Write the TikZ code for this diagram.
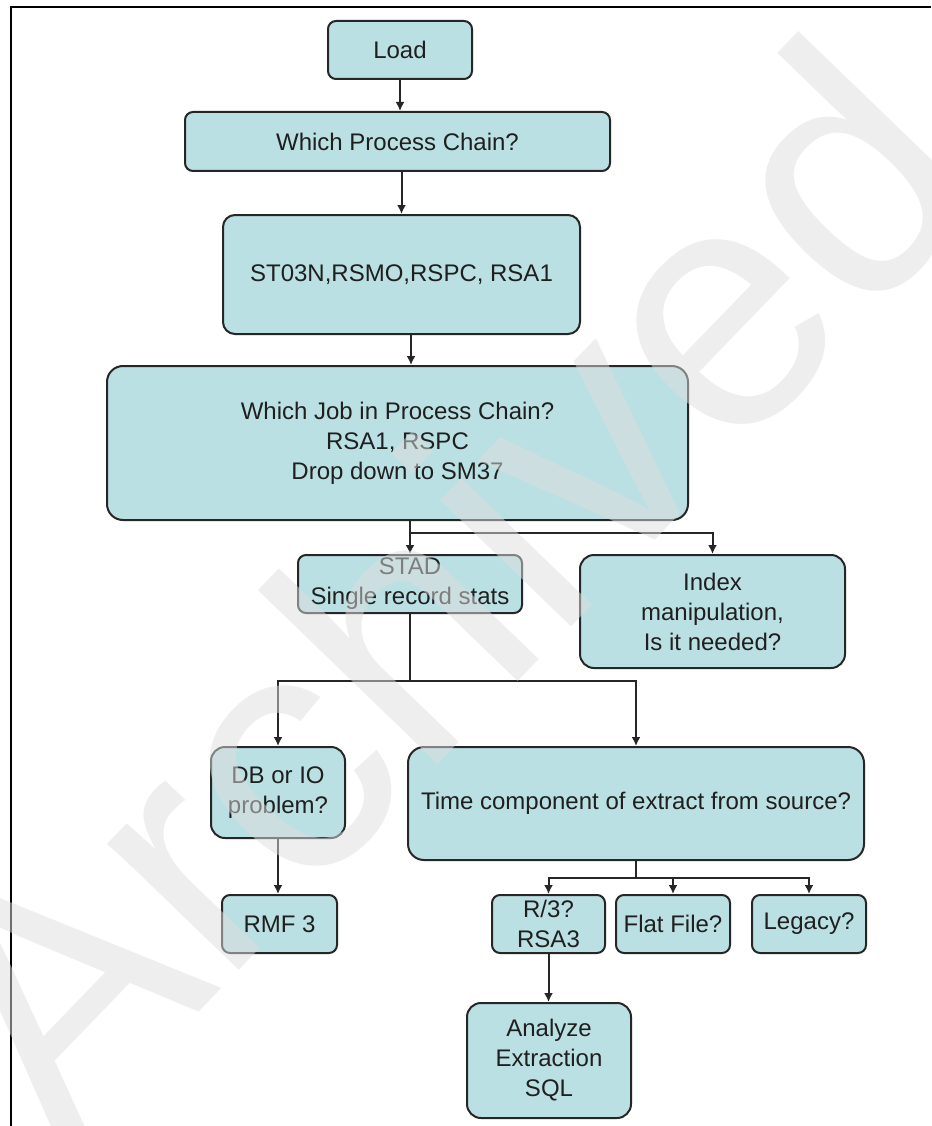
\documentclass[tikz,border=0pt]{standalone}
\usepackage{fontspec}
\setmainfont{Liberation Sans}
\usetikzlibrary{arrows.meta}
\definecolor{boxfill}{RGB}{187,224,227}
\definecolor{boxline}{RGB}{38,38,38}
\definecolor{wmark}{RGB}{222,222,222}
\begin{document}
\begin{tikzpicture}[x=1pt,y=-1pt,
  box/.style={draw=boxline, line width=2pt, fill=boxfill, rounded corners=#1,
    font=\fontsize{24}{30}\selectfont, text=black!88, align=center, inner sep=0pt},
  box/.default=8pt,
  link/.style={draw=boxline, line width=2pt},
  arr/.style={link, -{Latex[length=9pt,width=9pt]}},
  frame/.style={draw=black, line width=2pt}
]
\useasboundingbox (0,0) rectangle (931,1126);
\fill[white] (0,0) rectangle (931,1126);

% page frame (top and left rules)
\draw[frame] (931,7) -- (11,7) -- (11,1126);

% boxes
\node[box, minimum width=144pt, minimum height=58pt] (load) at (400,50) {Load};
\node[box, minimum width=425pt, minimum height=59pt] (chain) at (397.5,141.5) {Which Process Chain?};
\node[box=12pt, minimum width=357pt, minimum height=119pt] (tcodes) at (401.5,274.5) {ST03N,RSMO,RSPC, RSA1};
\node[box=16pt, minimum width=581pt, minimum height=154pt] (job) at (397.5,443)
  {Which Job in Process Chain?\\RSA1, RSPC\\Drop down to SM37};
\node[box, minimum width=224pt, minimum height=58pt] (stad) at (410,584) {STAD\\Single record stats};
\node[box=14pt, minimum width=265pt, minimum height=113pt] (index) at (712.5,611.5) {Index\\manipulation,\\Is it needed?};
\node[box=14pt, minimum width=134pt, minimum height=91pt] (db) at (278,792.5) {DB or IO\\problem?};
\node[box=16pt, minimum width=456pt, minimum height=113pt] (time) at (636,803.5) {Time component of extract from source?};
\node[box, minimum width=115pt, minimum height=58pt] (rmf) at (279.5,924) {RMF 3};
\node[box, minimum width=113pt, minimum height=58pt] (r3) at (548.5,924) {R/3?\\RSA3};
\node[box, minimum width=114pt, minimum height=58pt] (flat) at (673,924) {Flat File?};
\node[box, minimum width=114pt, minimum height=58pt] (legacy) at (809,924) {Legacy?};
\node[box=14pt, minimum width=164pt, minimum height=115pt] (sql) at (549,1060.5) {Analyze\\Extraction\\SQL};

% branch points
\coordinate (split1) at (410,533);
\coordinate (split2) at (410,681);
\coordinate (split3) at (636,878);

% connectors
\draw[arr] (load.south) -- (load.south |- chain.north);
\draw[arr] (tcodes.north |- chain.south) -- (tcodes.north);
\draw[arr] ([xshift=9.5pt]tcodes.south) -- ([xshift=9.5pt]tcodes.south |- job.north);
\draw[arr] (job.south -| stad.north) -- (stad.north);
\draw[arr] (split1) -| (index.north);
\draw[link] (stad.south) -- (split2);
\draw[arr] (split2) -| (db.north);
\draw[arr] (split2) -| (time.north);
\draw[arr] (db.south) -- (db.south |- rmf.north);
\draw[link] (time.south) -- (split3);
\draw[arr] (split3) -| (r3.north);
\draw[arr] (split3) -| (flat.north);
\draw[arr] (split3) -| (legacy.north);
\draw[arr] (r3.south) -- (r3.south |- sql.north);

% diagonal watermark laid over everything
\node[rotate=46, text=wmark, text opacity=0.5, inner sep=0pt,
  font=\fontsize{345}{345}\selectfont] (wm) at (440,585) {Archived};
\end{tikzpicture}
\end{document}
